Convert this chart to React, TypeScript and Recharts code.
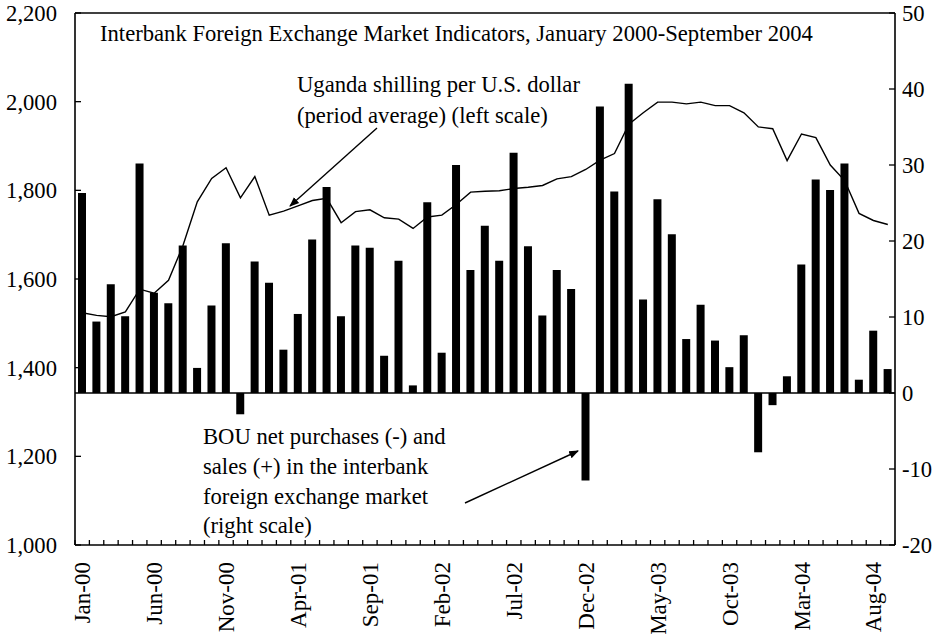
import React from "react";
import {
  ComposedChart,
  Bar,
  Line,
  XAxis,
  YAxis,
  ReferenceLine,
} from "recharts";

const months = [
  "Jan-00", "Feb-00", "Mar-00", "Apr-00", "May-00", "Jun-00", "Jul-00", "Aug-00", "Sep-00", "Oct-00", "Nov-00", "Dec-00",
  "Jan-01", "Feb-01", "Mar-01", "Apr-01", "May-01", "Jun-01", "Jul-01", "Aug-01", "Sep-01", "Oct-01", "Nov-01", "Dec-01",
  "Jan-02", "Feb-02", "Mar-02", "Apr-02", "May-02", "Jun-02", "Jul-02", "Aug-02", "Sep-02", "Oct-02", "Nov-02", "Dec-02",
  "Jan-03", "Feb-03", "Mar-03", "Apr-03", "May-03", "Jun-03", "Jul-03", "Aug-03", "Sep-03", "Oct-03", "Nov-03", "Dec-03",
  "Jan-04", "Feb-04", "Mar-04", "Apr-04", "May-04", "Jun-04", "Jul-04", "Aug-04", "Sep-04",
];

// shilling per US dollar, period average (left scale)
const shillingRate = [
  1524, 1518, 1515, 1526, 1577, 1568, 1597, 1675, 1774, 1827,
  1851, 1783, 1831, 1744, 1753, 1765, 1777, 1782, 1727, 1752,
  1756, 1738, 1735, 1714, 1740, 1744, 1768, 1796, 1798, 1799,
  1804, 1807, 1811, 1826, 1831, 1847, 1868, 1883, 1949, 1975,
  1999, 1999, 1995, 1999, 1991, 1991, 1975, 1943, 1939, 1867,
  1927, 1919, 1857, 1822, 1748, 1732, 1723,
];

// BOU net purchases (-) / sales (+) (right scale)
const bouNet = [
  26.3, 9.4, 14.3, 10.1, 30.2, 13.2, 11.8, 19.4, 3.3, 11.5,
  19.7, -2.8, 17.3, 14.5, 5.7, 10.4, 20.2, 27.1, 10.1, 19.4,
  19.1, 4.9, 17.4, 1.0, 25.1, 5.3, 30.0, 16.2, 22.0, 17.4,
  31.6, 19.3, 10.2, 16.2, 13.7, -11.5, 37.7, 26.5, 40.7, 12.3,
  25.5, 20.9, 7.1, 11.6, 6.9, 3.4, 7.6, -7.8, -1.6, 2.2,
  16.9, 28.1, 26.7, 30.2, 1.75, 8.2, 3.15,
];

const leftTicks = [1000, 1200, 1400, 1600, 1800, 2000, 2200];
const rightTicks = [-20, -10, 0, 10, 20, 30, 40, 50];

const data = months.map((m, i) => ({ month: m, rate: shillingRate[i], bou: bouNet[i] }));

const FONT = "'Liberation Serif', 'Times New Roman', serif";
const W = 945;
const H = 638;
const STEP = 820 / months.length;

const fmt = (v: number) => v.toLocaleString("en-US");

// slightly squeezed text, the original looks a bit condensed
function Txt({ x, y, children, anchor = "start", size = 23 }: any) {
  return (
    <g transform={`translate(${x},${y}) scale(0.985,1)`}>
      <text x={0} y={0} textAnchor={anchor} fontSize={size} fontFamily={FONT} fill="#000">
        {children}
      </text>
    </g>
  );
}

function MonthTick(props: any) {
  const { x, y, payload, index } = props;
  const bx = x - STEP / 2;
  return (
    <g>
      <line x1={bx} y1={y} x2={bx} y2={y - 5} stroke="#000" strokeWidth={1.3} />
      {index === months.length - 1 && (
        <line x1={x + STEP / 2} y1={y} x2={x + STEP / 2} y2={y - 5} stroke="#000" strokeWidth={1.3} />
      )}
      {index % 5 === 0 && (
        <text
          x={x}
          y={y + 17}
          transform={`rotate(-90, ${x}, ${y + 17})`}
          textAnchor="end"
          dy="0.35em"
          fontSize={23}
          fontFamily={FONT}
          fill="#000"
        >
          {payload.value}
        </text>
      )}
    </g>
  );
}

function LeftTick(props: any) {
  const { x, y, payload } = props;
  return (
    <g>
      <line x1={x} y1={y} x2={x + 6} y2={y} stroke="#000" strokeWidth={1.3} />
      <Txt x={x - 18} y={y + 8} anchor="end">{fmt(payload.value)}</Txt>
    </g>
  );
}

function RightTick(props: any) {
  const { x, y, payload } = props;
  return (
    <g>
      <line x1={x - 6} y1={y} x2={x} y2={y} stroke="#000" strokeWidth={1.3} />
      <Txt x={x + 7} y={y + 8}>{payload.value}</Txt>
    </g>
  );
}

export default function App() {
  return (
    <div style={{ position: "absolute", left: 0, top: 0, width: W, height: H, background: "#fff" }}>
      <ComposedChart
        width={W}
        height={H}
        data={data}
        margin={{ top: 13, right: 0, bottom: 0, left: 0 }}
        barGap={0}
      >
        <XAxis
          dataKey="month"
          interval={0}
          tickLine={false}
          tickSize={0}
          tickMargin={0}
          height={93}
          axisLine={{ stroke: "#000", strokeWidth: 1.6 }}
          tick={<MonthTick />}
        />
        <YAxis
          yAxisId="left"
          domain={[1000, 2200]}
          ticks={leftTicks}
          width={75}
          tickLine={false}
          tickSize={0}
          tickMargin={0}
          axisLine={{ stroke: "#000", strokeWidth: 1.6 }}
          tick={<LeftTick />}
        />
        <YAxis
          yAxisId="right"
          orientation="right"
          domain={[-20, 50]}
          ticks={rightTicks}
          width={50}
          tickLine={false}
          tickSize={0}
          tickMargin={0}
          axisLine={{ stroke: "#000", strokeWidth: 1.6 }}
          tick={<RightTick />}
        />
        <ReferenceLine yAxisId="left" y={2200} stroke="#000" strokeWidth={1.6} />
        <Bar yAxisId="right" dataKey="bou" fill="#000" barSize={8} isAnimationActive={false} />
        <ReferenceLine yAxisId="right" y={0} stroke="#000" strokeWidth={1.5} />
        <Line
          yAxisId="left"
          type="linear"
          dataKey="rate"
          stroke="#000"
          strokeWidth={1.4}
          dot={false}
          isAnimationActive={false}
        />
      </ComposedChart>
      <svg
        width={W}
        height={H}
        style={{ position: "absolute", left: 0, top: 0, pointerEvents: "none" }}
      >
        <defs>
          <marker id="ah" viewBox="0 0 10 10" refX="9" refY="5" markerWidth="7" markerHeight="7" orient="auto">
            <path d="M0,1 L10,5 L0,9 z" fill="#000" />
          </marker>
        </defs>
        <Txt x={100} y={41}>
          Interbank Foreign Exchange Market Indicators, January 2000-September 2004
        </Txt>
        <Txt x={297} y={92}>Uganda shilling per U.S. dollar</Txt>
        <Txt x={297} y={123}>(period average) (left scale)</Txt>
        <line x1={377} y1={128} x2={290} y2={206} stroke="#000" strokeWidth={1.4} markerEnd="url(#ah)" />
        <Txt x={203} y={444}>BOU net purchases (-) and</Txt>
        <Txt x={203} y={474}>sales (+) in the interbank</Txt>
        <Txt x={203} y={504}>foreign exchange market</Txt>
        <Txt x={203} y={533}>(right scale)</Txt>
        <line x1={465} y1={503} x2={578} y2={451} stroke="#000" strokeWidth={1.4} markerEnd="url(#ah)" />
      </svg>
    </div>
  );
}
